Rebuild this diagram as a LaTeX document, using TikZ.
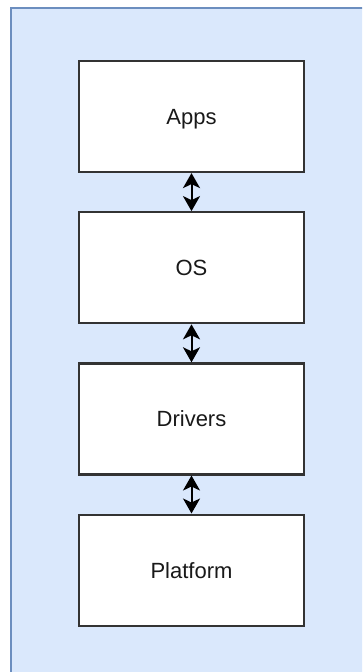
\documentclass[tikz,border=0pt]{standalone}
\usepackage{fontspec}
\setmainfont{Liberation Sans}
\usepackage{xcolor}
\usetikzlibrary{positioning,arrows.meta}
\definecolor{panelfill}{HTML}{DAE8FC}
\definecolor{panelline}{HTML}{6C8EBF}
\definecolor{boxline}{HTML}{333333}

\begin{document}
\begin{tikzpicture}[x=1pt,y=-1pt,
    layer/.style={draw=boxline, line width=2.2pt, fill=white, minimum width=225pt,
      minimum height=111pt, font=\fontsize{22}{26}\selectfont, text=black!90, text depth=0pt},
    link/.style={line width=2pt, {Stealth[length=15pt,width=17pt,inset=4pt]}-{Stealth[length=15pt,width=17pt,inset=4pt]}},
    node distance=38pt]
\useasboundingbox (0,0) rectangle (362,672);
\clip (0,0) rectangle (362,672);

% Draw background panel
\draw[fill=panelfill, draw=panelline, line width=2pt] (11,8) rectangle (380,690);

% Layers
\node[layer] (apps) at (191.5,116.5) {Apps};
\node[layer, below=of apps] (os) {OS};
\node[layer, below=of os] (drivers) {Drivers};
\node[layer, below=of drivers] (platform) {Platform};

% Links between layers
\draw[link] (apps) -- (os);
\draw[link] (os) -- (drivers);
\draw[link] (drivers) -- (platform);
\end{tikzpicture}
\end{document}
